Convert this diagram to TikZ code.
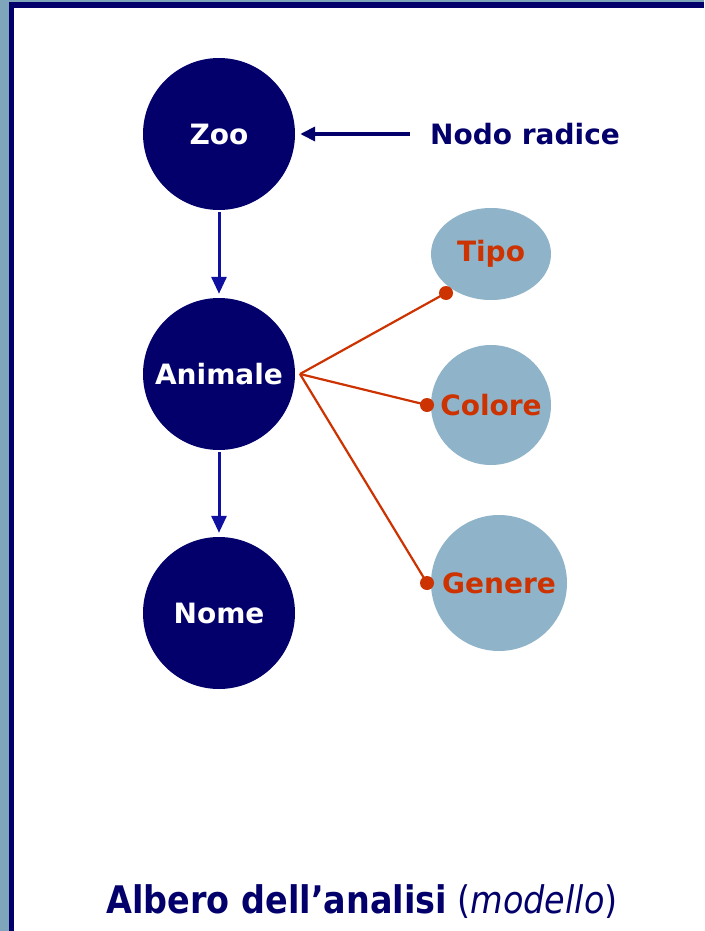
\documentclass[tikz,border=0pt]{standalone}
\usepackage{fontspec}
\setmainfont{DejaVu Sans}
\newfontfamily\titlefont[FakeStretch=0.88]{DejaVu Sans}
\usetikzlibrary{arrows.meta,shapes.geometric}
\definecolor{navy}{HTML}{03006B}
\definecolor{arrowblue}{HTML}{1010A0}
\definecolor{paleblue}{HTML}{8FB3C8}
\definecolor{rust}{HTML}{CC3300}
\definecolor{slate}{HTML}{7FA5BA}
\tikzset{
  mainnode/.style={circle, fill=navy, minimum size=152pt, inner sep=0pt,
    text=white, font=\fontsize{28}{30}\selectfont\bfseries},
  attrnode/.style={ellipse, fill=paleblue, inner sep=0pt,
    text=rust, font=\fontsize{28}{30}\selectfont\bfseries},
  downarrow/.style={draw=arrowblue, line width=3pt, -{Triangle[length=17pt,width=15pt]}},
  link/.style={draw=rust, line width=2.2pt},
  linkdot/.style={circle, fill=rust, minimum size=14pt, inner sep=0pt},
}
% zero-width box so the label never enlarges its ellipse
\newcommand{\flatlabel}[1]{\makebox[0pt][c]{#1}}
\begin{document}
\begin{tikzpicture}[x=1pt, y=-1pt]
  % frame
  \fill[slate] (0,0) rectangle (704,931);
  \fill[navy] (9,2) rectangle (704,931);
  \fill[white] (14,8) rectangle (704,931);
  \useasboundingbox (0,0) rectangle (704,931);

  % main chain
  \node[mainnode] (zoo) at (219,134) {Zoo};
  \node[mainnode] (animale) at (219,374) {Animale};
  \node[mainnode] (nome) at (219,613) {Nome};

  \draw[downarrow, shorten <=2pt, shorten >=4pt] (zoo.south) -- (animale.north);
  \draw[downarrow, shorten <=2pt, shorten >=4pt] (animale.south) -- (nome.north);

  % root label
  \node[anchor=west, text=navy, font=\fontsize{28}{30}\selectfont\bfseries, inner sep=0pt] (radice) at (430,134) {Nodo radice};
  \coordinate (radtail) at (410,134);
  \draw[navy, line width=4pt, -{Triangle[length=15pt,width=14pt]}, shorten >=5pt] (radtail) -- (zoo.east);

  % attributes
  \node[attrnode, minimum width=120pt, minimum height=92pt] (tipo) at (491,254) {\flatlabel{Tipo}};
  \node[attrnode, minimum width=120pt, minimum height=120pt] (colore) at (491,405) {\flatlabel{Colore}};
  \node[attrnode, minimum width=136pt, minimum height=136pt] (genere) at (499,583) {\flatlabel{Genere}};

  \coordinate (hub) at (300,374);
  \node[linkdot] (dtipo) at (446,293) {};
  \node[linkdot] (dcolore) at (427,405) {};
  \node[linkdot] (dgenere) at (427,583) {};
  \draw[link] (hub) -- (dtipo.center);
  \draw[link] (hub) -- (dcolore.center);
  \draw[link] (hub) -- (dgenere.center);

  % caption
  \node[text=navy, inner sep=0pt, anchor=base] (caption) at (362,913)
    {\titlefont\fontsize{38}{40}\selectfont\textbf{Albero dell’analisi} (\textit{modello})};
\end{tikzpicture}
\end{document}
